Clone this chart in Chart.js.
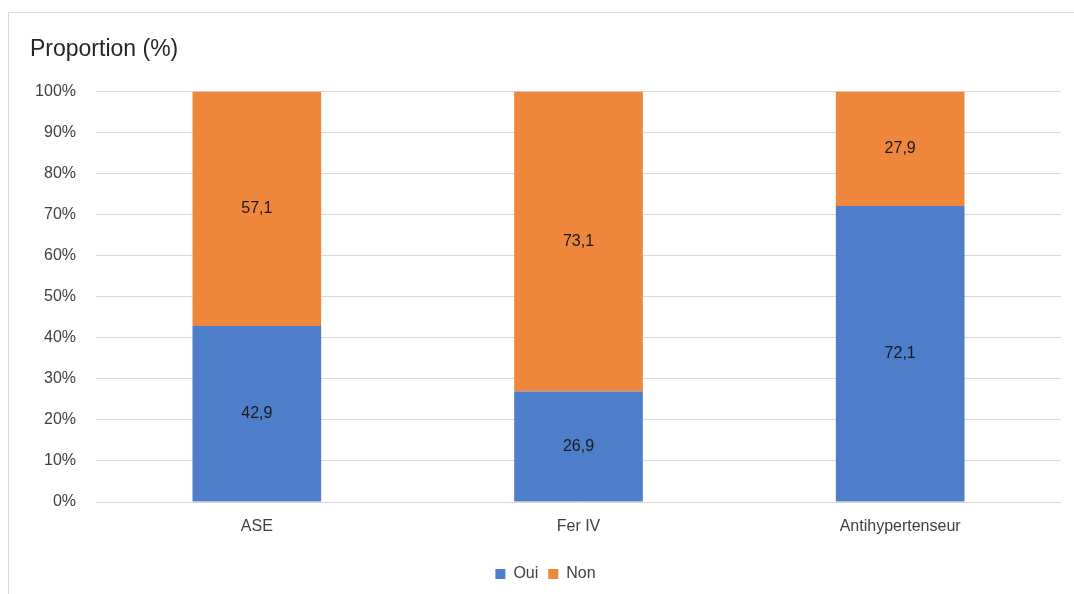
<!DOCTYPE html>
<html>
<head>
<meta charset="utf-8">
<script src="https://cdn.jsdelivr.net/npm/chart.js@4"></script>
<style>
  html, body { margin: 0; padding: 0; background: #fff; }
  #wrap { position: relative; width: 1074px; height: 594px; overflow: hidden; }
  #frame { position: absolute; left: 8px; top: 12px; right: -2px; bottom: -2px;
           border-left: 1px solid #d9d9d9; border-top: 1px solid #d9d9d9; }
  canvas { position: absolute; left: 0; top: 0; }
</style>
</head>
<body>
<div id="wrap">
  <div id="frame"></div>
  <canvas id="chart" width="1074" height="594"></canvas>
</div>
<script>
const categories = ['ASE', 'Fer IV', 'Antihypertenseur'];
const oui = [42.9, 26.9, 72.1];
const non = [57.1, 73.1, 27.9];
const seriesNames = ['Oui', 'Non'];

const FONT = '"Liberation Sans", Arial, sans-serif';

// labels in the middle of each bar segment, french decimal comma
const barLabels = {
    id: 'barLabels',
    afterDatasetsDraw(chart) {
        const ctx = chart.ctx;
        ctx.save();
        ctx.font = '16px ' + FONT;
        ctx.fillStyle = '#1a1a1a';
        ctx.textAlign = 'center';
        ctx.textBaseline = 'middle';
        chart.data.datasets.forEach((ds, i) => {
            chart.getDatasetMeta(i).data.forEach((bar, j) => {
                const y = (bar.y + bar.base) / 2;
                ctx.fillText(String(ds.data[j]).replace('.', ','), bar.x, y);
            });
        });
        ctx.restore();
    }
};

new Chart(document.getElementById('chart'), {
    type: 'bar',
    data: {
        labels: categories,
        datasets: [
            { label: seriesNames[0], data: oui, backgroundColor: '#4e7dc9' },
            { label: seriesNames[1], data: non, backgroundColor: '#ee873c' }
        ]
    },
    options: {
        responsive: false,
        animation: false,
        layout: { padding: { left: 30, right: 13, top: 36, bottom: 2 } },
        datasets: { bar: { barPercentage: 0.4, categoryPercentage: 1 } },
        scales: {
            x: {
                stacked: true,
                afterFit(scale) { scale.height = 54; },
                grid: { display: false },
                border: { display: false },
                ticks: { color: '#404040', font: { family: FONT, size: 16 }, padding: 7 }
            },
            y: {
                stacked: true,
                min: 0,
                max: 100,
                afterFit(scale) { scale.width = 66; },
                grid: { color: '#d9d9d9', drawTicks: false },
                border: { display: false },
                ticks: {
                    stepSize: 10,
                    padding: 20,
                    color: '#404040',
                    font: { family: FONT, size: 16 },
                    callback: v => v + '%'
                }
            }
        },
        plugins: {
            title: {
                display: true,
                text: 'Proportion (%)',
                align: 'start',
                color: '#262626',
                font: { family: FONT, size: 23, weight: 'normal' },
                padding: { top: 0, bottom: 28 }
            },
            legend: {
                position: 'bottom',
                labels: {
                    color: '#404040',
                    font: { family: FONT, size: 16 },
                    boxWidth: 10,
                    boxHeight: 10,
                    padding: 10
                }
            },
            tooltip: { enabled: false }
        }
    },
    plugins: [barLabels]
});
</script>
</body>
</html>
